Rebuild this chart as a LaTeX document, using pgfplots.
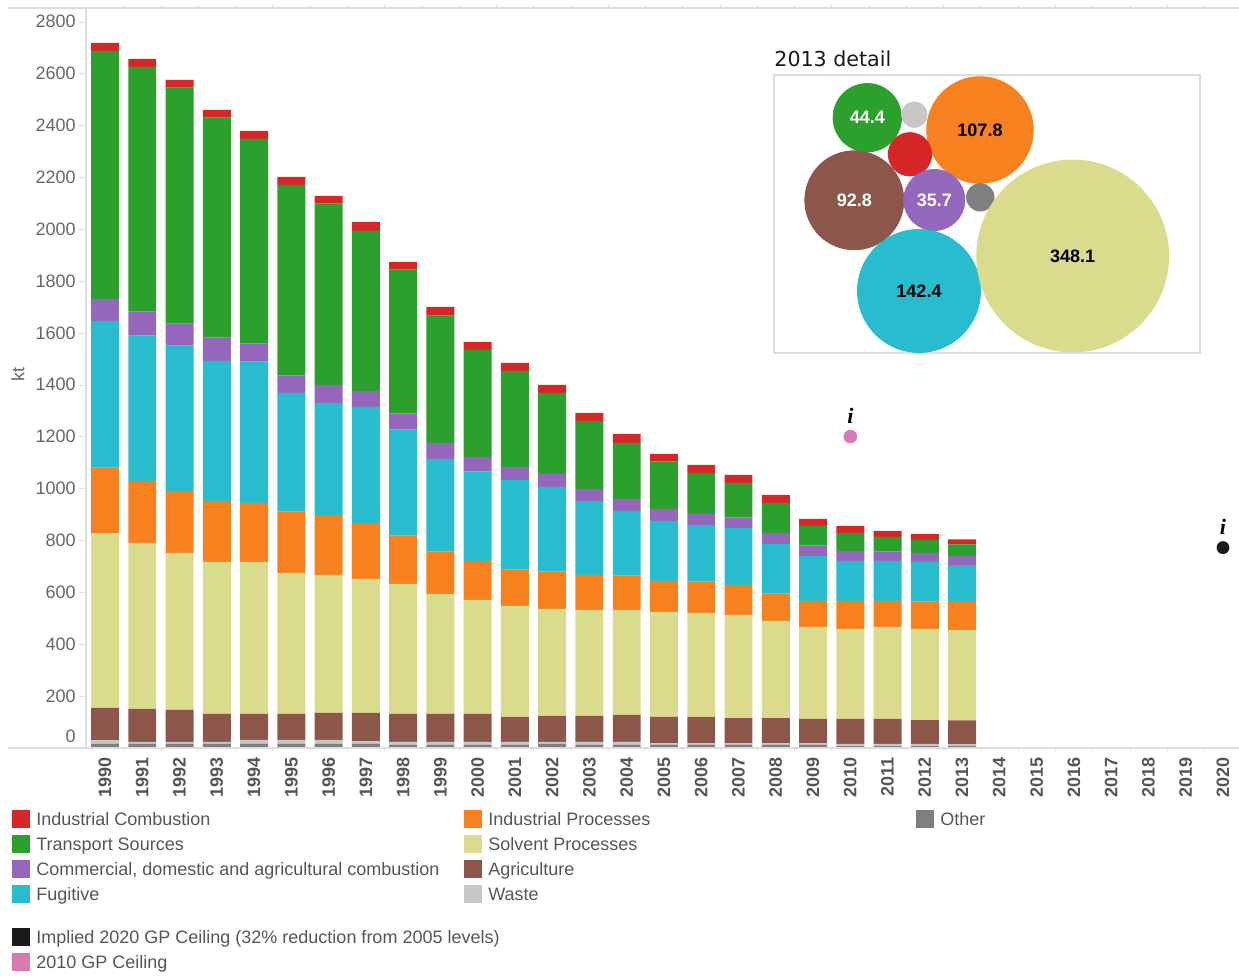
\documentclass[border=0pt]{standalone}
\usepackage{pgfplots}
\pgfplotsset{compat=1.18}
\usepackage{pgfplotstable}
\usepackage{fontspec}
\setmainfont{Liberation Sans}
\newfontfamily\titlefont{DejaVu Sans}
\newfontfamily\ifont{Liberation Serif}
\definecolor{cIC}{HTML}{D62728}
\definecolor{cTS}{HTML}{2CA02C}
\definecolor{cCM}{HTML}{9467BD}
\definecolor{cFU}{HTML}{27BDCF}
\definecolor{cIP}{HTML}{F7801F}
\definecolor{cSP}{HTML}{DBDB8D}
\definecolor{cAG}{HTML}{8C564B}
\definecolor{cWA}{HTML}{C7C7C7}
\definecolor{cOT}{HTML}{7F7F7F}
\definecolor{cBK}{HTML}{1A1A1A}
\definecolor{cPK}{HTML}{D87BB5}
\definecolor{txt}{HTML}{555555}
\definecolor{tickc}{HTML}{666666}
\definecolor{linec}{HTML}{DDDDDD}

\pgfplotstableread{
year other waste agri solv ip fug comm trans ic
1990 14.7 15.3 123.5 673.6 253.2 565.8 84.8 956.6 30.9
1991 14.7 7.7 127.3 640.2 239.1 560.5 92.6 943.7 30.9
1992 14.7 7.7 123.4 605.5 239.2 560.4 84.8 910.3 29.7
1993 14.7 7.7 108.0 586.2 235.3 540.0 89.8 848.6 29.7
1994 14.7 15.4 100.3 586.2 227.6 545.0 69.4 789.5 30.9
1995 14.7 15.4 100.3 543.8 236.4 457.9 66.7 735.5 30.9
1996 14.7 15.4 104.2 532.2 231.4 432.0 69.4 699.3 29.7
1997 14.7 11.5 108.1 516.8 215.9 447.5 61.7 617.1 34.7
1998 10.8 11.6 108.0 501.4 186.3 408.8 61.7 555.4 29.7
1999 10.8 11.6 108.0 462.8 163.2 357.5 61.7 491.0 33.5
2000 10.8 11.6 108.0 439.7 150.4 344.4 56.7 412.7 30.9
2001 10.8 11.6 96.4 428.1 140.0 346.0 50.1 370.3 30.9
2002 14.7 7.7 100.3 412.6 143.9 326.8 50.1 312.4 30.8
2003 10.8 11.6 100.3 408.8 135.0 285.4 46.3 262.3 30.8
2004 10.8 11.6 104.1 405.0 132.3 249.5 46.3 216.0 34.7
2005 10.8 7.7 100.3 405.0 119.5 231.4 46.3 182.5 29.7
2006 10.8 7.7 100.3 401.1 120.7 218.7 42.4 158.2 30.9
2007 10.8 7.7 96.4 397.3 115.7 219.8 39.8 133.9 30.8
2008 10.8 7.7 96.4 374.2 105.3 191.7 42.4 115.7 30.9
2009 10.8 7.7 92.6 354.8 100.3 173.6 39.7 76.0 27.0
2010 6.9 7.8 96.4 347.1 108.0 154.3 38.6 69.4 27.0
2011 6.9 7.8 96.4 354.8 100.3 154.3 35.9 56.7 23.1
2012 6.9 7.8 92.5 351.0 105.3 153.1 34.7 50.2 23.1
2013 7.0 6.0 92.8 348.1 107.8 142.4 35.7 44.4 20.0
}\data

\newcommand{\lf}{\fontsize{9}{10.8}\selectfont}
\newcommand{\leg}[5]{%
  \fill[#1] (#2pt,#4pt-4.5pt) rectangle ++(9pt,9pt);
  \node[anchor=base west,inner sep=0pt,text=txt,font=\lf] at (#3pt,#4pt-3.3pt) {#5};}

\begin{document}
\begin{tikzpicture}
\path[use as bounding box] (0,0) rectangle (619.5pt,488pt);

% frame lines
\draw[linec, line width=0.6pt] (4pt,484pt) -- (619.5pt,484pt);
\draw[linec, line width=0.6pt] (43pt,114.1pt) -- (43pt,484pt);

\begin{axis}[
  at={(43pt,114.1pt)}, anchor=south west, scale only axis,
  width=576.5pt, height=369.9pt,
  xmin=1989.49, xmax=2020.43, ymin=0, ymax=2853,
  ybar stacked, bar width=0.75,
  axis line style={draw=none},
  clip=false,
  ytick={200,400,...,2800},
  extra y ticks={0},
  extra y tick style={yticklabel style={yshift=5.5pt}},
  xtick={1990,...,2020},
  minor xtick={1990.5,1991.5,...,2019.5},
  tick align=outside,
  major tick length=3.5pt, minor tick length=1.5pt,
  major x tick style={draw=none},
  minor x tick style={draw=linec},
  ytick style={draw=linec},
  /pgf/number format/assume math mode=true,
  /pgf/number format/1000 sep={},
  yticklabel style={font=\lf, text=tickc, inner sep=0pt, anchor=east},
  yticklabel shift=1.5pt,
  xticklabel style={font=\bfseries\lf, text=txt, rotate=90, anchor=east, inner sep=0pt},
  xticklabel shift=1pt,
  ylabel={kt},
  every axis y label/.style={at={(axis description cs:-0.059,0.504)}, rotate=90, anchor=center, font=\lf, text=tickc},
]
\addplot[fill=cOT, draw=none] table[x=year,y=other]{\data};
\addplot[fill=cWA, draw=none] table[x=year,y=waste]{\data};
\addplot[fill=cAG, draw=none] table[x=year,y=agri]{\data};
\addplot[fill=cSP, draw=none] table[x=year,y=solv]{\data};
\addplot[fill=cIP, draw=none] table[x=year,y=ip]{\data};
\addplot[fill=cFU, draw=none] table[x=year,y=fug]{\data};
\addplot[fill=cCM, draw=none] table[x=year,y=comm]{\data};
\addplot[fill=cTS, draw=none] table[x=year,y=trans]{\data};
\addplot[fill=cIC, draw=none] table[x=year,y=ic]{\data};
\end{axis}

% bottom axis line
\draw[linec, line width=0.8pt] (4pt,114.1pt) -- (619.5pt,114.1pt);

% ceilings
\begin{axis}[
  at={(43pt,114.1pt)}, anchor=south west, scale only axis,
  width=576.5pt, height=369.9pt,
  xmin=1989.49, xmax=2020.43, ymin=0, ymax=2853,
  hide axis, clip=false,
  nodes near coords={i},
  every node near coord/.append style={anchor=base, yshift=6.5pt, inner sep=0pt,
     font=\ifont\bfseries\itshape\fontsize{11}{11}\selectfont, text=black},
]
\addplot[only marks, mark=*, mark size=3.2pt, color=cPK] coordinates {(2010,1200)};
\addplot[only marks, mark=*, mark size=3pt, color=cBK] coordinates {(2020,772)};
\end{axis}

% 2013 detail bubbles
\node[anchor=base west, inner sep=0pt, font=\titlefont\fontsize{10.3}{12}\selectfont, text=black!90] at (387pt,454.5pt) {2013 detail};
\begin{axis}[
  at={(387pt,311.5pt)}, anchor=south west, scale only axis,
  width=213pt, height=139pt,
  xmin=774, xmax=1200, ymin=-353, ymax=-75,
  axis line style={draw=linec, line width=0.8pt},
  ticks=none, clip=false,
  every node near coord/.append style={anchor=center, inner sep=0pt, font=\bfseries\lf},
]
\addplot[only marks, mark=*, mark size=17.1pt, color=cTS, nodes near coords={44.4}, every node near coord/.append style={text=white}] coordinates {(867.3,-117.7)};
\addplot[only marks, mark=*, mark size=6.4pt, color=cWA] coordinates {(914.3,-114.7)};
\addplot[only marks, mark=*, mark size=26.65pt, color=cIP, nodes near coords={107.8}, every node near coord/.append style={text=black}] coordinates {(980,-130)};
\addplot[only marks, mark=*, mark size=10.85pt, color=cIC] coordinates {(910,-154.3)};
\addplot[only marks, mark=*, mark size=24.75pt, color=cAG, nodes near coords={92.8}, every node near coord/.append style={text=white}] coordinates {(854.3,-200.3)};
\addplot[only marks, mark=*, mark size=15.25pt, color=cCM, nodes near coords={35.7}, every node near coord/.append style={text=white}] coordinates {(934.3,-200)};
\addplot[only marks, mark=*, mark size=6.9pt, color=cOT] coordinates {(980.3,-197.3)};
\addplot[only marks, mark=*, mark size=30.75pt, color=cFU, nodes near coords={142.4}, every node near coord/.append style={text=black}] coordinates {(919,-291)};
\addplot[only marks, mark=*, mark size=48pt, color=cSP, nodes near coords={348.1}, every node near coord/.append style={text=black}] coordinates {(1072.7,-256)};
\end{axis}

% legend
\leg{cIC}{6}{18}{78.5}{Industrial Combustion}
\leg{cTS}{6}{18}{66}{Transport Sources}
\leg{cCM}{6}{18}{53.5}{Commercial, domestic and agricultural combustion}
\leg{cFU}{6}{18}{41}{Fugitive}
\leg{cIP}{232}{244}{78.5}{Industrial Processes}
\leg{cSP}{232}{244}{66}{Solvent Processes}
\leg{cAG}{232}{244}{53.5}{Agriculture}
\leg{cWA}{232}{244}{41}{Waste}
\leg{cOT}{458}{470}{78.5}{Other}
\leg{cBK}{6}{18}{19.5}{Implied 2020 GP Ceiling (32\% reduction from 2005 levels)}
\leg{cPK}{6}{18}{7}{2010 GP Ceiling}
\end{tikzpicture}
\end{document}
